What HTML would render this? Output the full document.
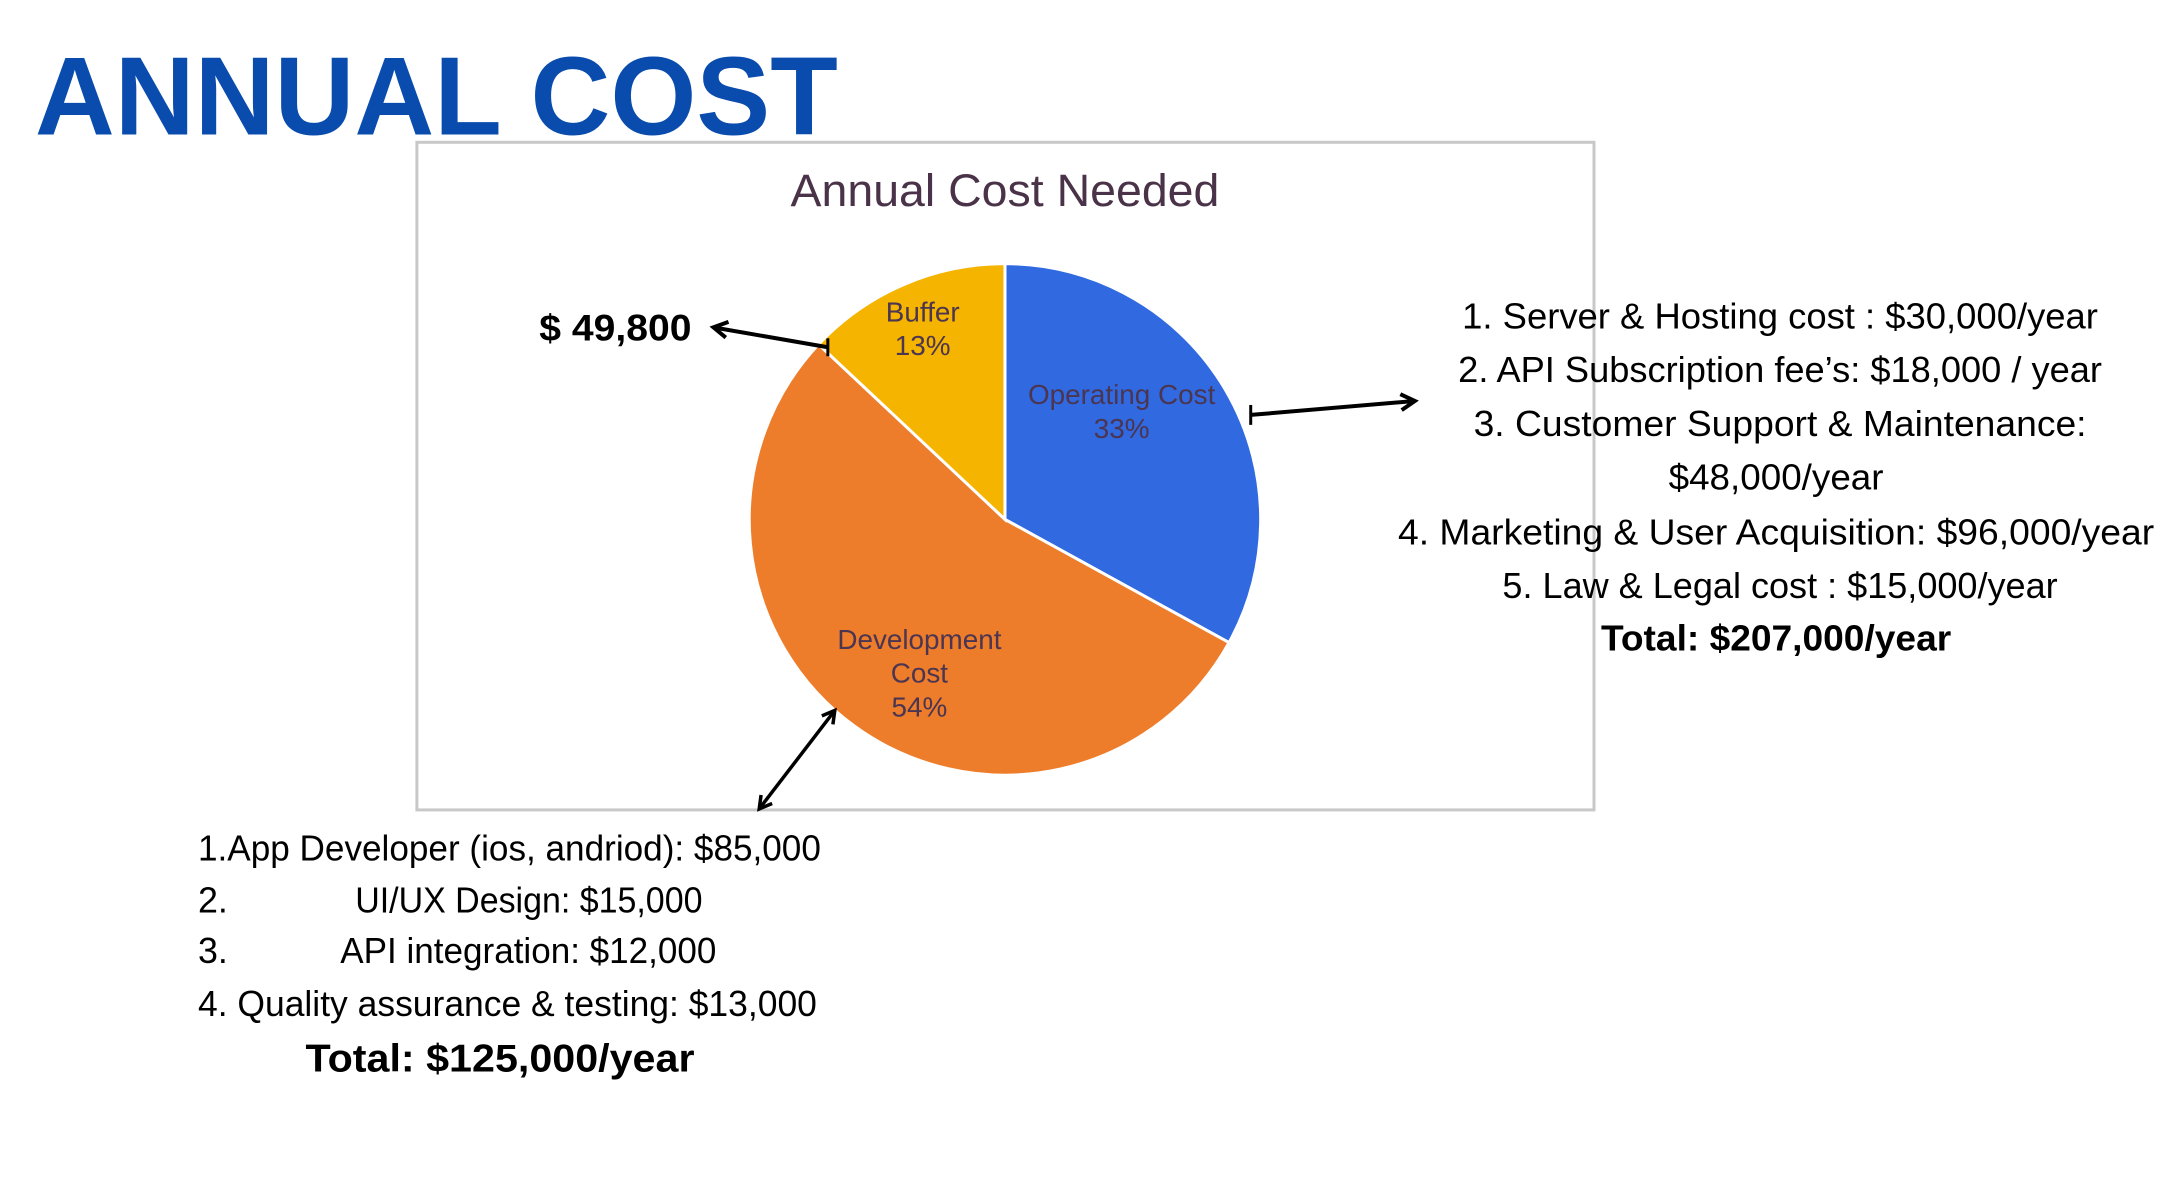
<!DOCTYPE html>
<html><head><meta charset="utf-8"><style>
html,body{margin:0;padding:0;background:#fff;}
svg{display:block;font-family:"Liberation Sans",sans-serif;}
</style></head><body>
<svg id="chart" width="2170" height="1190" viewBox="0 0 2170 1190">
<defs>
<marker id="ah" viewBox="0 0 10 10" refX="8" refY="5" markerWidth="5" markerHeight="5" orient="auto-start-reverse"><path d="M1,1 L8,5 L1,9" fill="none" stroke="#000" stroke-width="2"/></marker>
</defs>
<g transform="scale(0.995)">
<text x="35" y="135" font-size="112" font-weight="bold" fill="#0a4cae" textLength="807" lengthAdjust="spacingAndGlyphs">ANNUAL COST</text>
<rect x="419" y="143" width="1183" height="671" fill="#fff" stroke="#c8c8c8" stroke-width="3"/>
<text x="1010" y="207" font-size="46" text-anchor="middle" fill="#4a3348" textLength="431" lengthAdjust="spacingAndGlyphs">Annual Cost Needed</text>
<g id="pie"></g>
<g id="labels"></g>

<line x1="832" y1="349" x2="717" y2="329" stroke="#000" stroke-width="4" marker-end="url(#ah)"/>
<line x1="832" y1="340" x2="832" y2="358" stroke="#000" stroke-width="3"/>
<text x="542" y="342" font-size="37" font-weight="bold" fill="#000" textLength="153" lengthAdjust="spacingAndGlyphs">$ 49,800</text>

<line x1="1257" y1="417" x2="1422" y2="403" stroke="#000" stroke-width="4" marker-end="url(#ah)"/>
<line x1="1257" y1="407" x2="1257" y2="427" stroke="#000" stroke-width="3"/>

<line x1="839" y1="714" x2="763" y2="813" stroke="#000" stroke-width="3.5" marker-start="url(#ah)" marker-end="url(#ah)"/>

<g font-size="36" fill="#000" text-anchor="middle" lengthAdjust="spacingAndGlyphs">
<text x="1789" y="330" textLength="639" lengthAdjust="spacingAndGlyphs">1. Server &amp; Hosting cost : $30,000/year</text>
<text x="1789" y="384" textLength="647" lengthAdjust="spacingAndGlyphs">2. API Subscription fee’s: $18,000 / year</text>
<text x="1789" y="438" textLength="616" lengthAdjust="spacingAndGlyphs">3. Customer Support &amp; Maintenance:</text>
<text x="1785" y="492" textLength="216" lengthAdjust="spacingAndGlyphs">$48,000/year</text>
<text x="1785" y="547" textLength="760" lengthAdjust="spacingAndGlyphs">4. Marketing &amp; User Acquisition: $96,000/year</text>
<text x="1789" y="601" textLength="558" lengthAdjust="spacingAndGlyphs">5. Law &amp; Legal cost : $15,000/year</text>
<text x="1785" y="654" font-weight="bold" textLength="352" lengthAdjust="spacingAndGlyphs">Total: $207,000/year</text>
</g>

<g font-size="36" fill="#000">
<text x="199" y="865" textLength="626" lengthAdjust="spacingAndGlyphs">1.App Developer (ios, andriod): $85,000</text>
<text x="199" y="917">2.</text>
<text x="357" y="917" textLength="349" lengthAdjust="spacingAndGlyphs">UI/UX Design: $15,000</text>
<text x="199" y="968">3.</text>
<text x="342" y="968" textLength="378" lengthAdjust="spacingAndGlyphs">API integration: $12,000</text>
<text x="199" y="1021" textLength="622" lengthAdjust="spacingAndGlyphs">4.  Quality assurance &amp; testing: $13,000</text>
<text x="307" y="1077" font-weight="bold" font-size="39" textLength="391" lengthAdjust="spacingAndGlyphs">Total:  $125,000/year</text>
</g>
</g>
</svg>
<script>
const categories = ["Operating Cost", "Development Cost", "Buffer"];
const values = [33, 54, 13];
const labelLines = [["Operating Cost","33%"],["Development","Cost","54%"],["Buffer","13%"]];
const colors = ["#3069e0", "#ed7d2b", "#f5b400"];
const NS = "http://www.w3.org/2000/svg";
const cx = 1010, cy = 522, r = 257;
const total = values.reduce((a,b)=>a+b,0);
function angleOf(v){ return v/total*2*Math.PI; }
function pt(a, rr){ return [cx + rr*Math.sin(a), cy - rr*Math.cos(a)]; }
const pie = document.getElementById('pie');
const lab = document.getElementById('labels');
const labelR = [0.62, 0.69, 0.81];
const labelShift = [-12, -7, 0];
let start = 0;
values.forEach((v,i)=>{
  const end = start + angleOf(v);
  const [x1,y1] = pt(start, r), [x2,y2] = pt(end, r);
  const large = (end-start) > Math.PI ? 1 : 0;
  const p = document.createElementNS(NS,'path');
  p.setAttribute('d', `M${cx},${cy} L${x1},${y1} A${r},${r} 0 ${large} 1 ${x2},${y2} Z`);
  p.setAttribute('fill', colors[i]);
  p.setAttribute('stroke', '#fff');
  p.setAttribute('stroke-width', '3');
  
  
  pie.appendChild(p);
  const mid = (start+end)/2 + labelShift[i]*Math.PI/180;
  const [lx,ly] = pt(mid, r*labelR[i]);
  const lines = labelLines[i];
  lines.forEach((s,j)=>{
    const t = document.createElementNS(NS,'text');
    t.setAttribute('x', lx);
    t.setAttribute('y', ly + (j - (lines.length-1)/2)*34 + 9);
    t.setAttribute('text-anchor','middle');
    t.setAttribute('font-size','28');
    t.setAttribute('fill','#4b3550');
    t.textContent = s;
    
    
    lab.appendChild(t);
  });
  start = end;
});
</script>
</body></html>
